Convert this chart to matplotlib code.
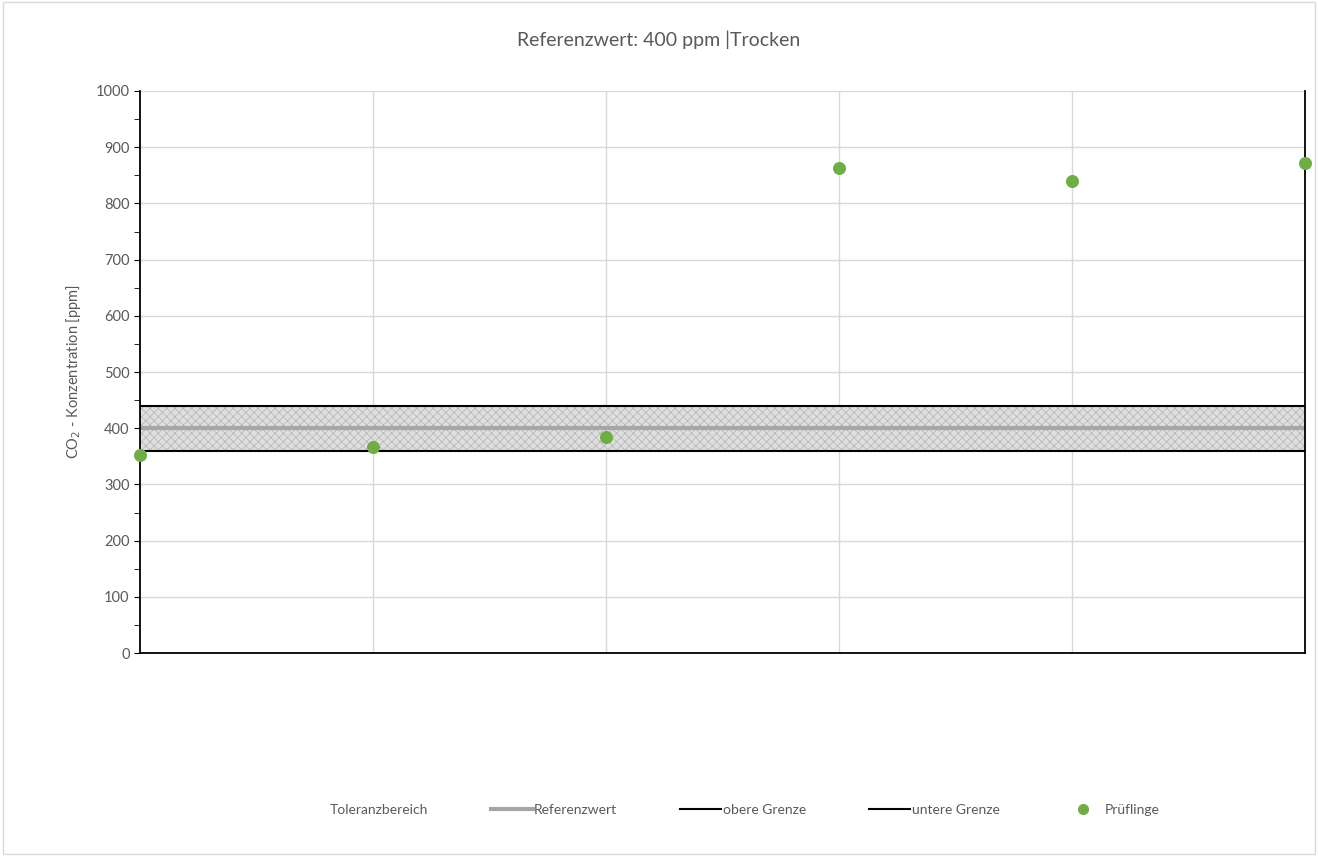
import numpy as np
import matplotlib.pyplot as plt
from matplotlib.patches import Patch
from matplotlib.lines import Line2D

plt.rcParams['font.family'] = ['Lato', 'DejaVu Sans']
plt.rcParams['hatch.color'] = '#b3b3b3'
plt.rcParams['hatch.linewidth'] = 0.5

positions = [0, 1, 2, 3, 4, 5]
pruflinge = [352, 366, 384, 863, 840, 872]
referenz = 400
obere = 440
untere = 360

grey_txt = '#595959'

fig = plt.figure(figsize=(13.18, 8.56), dpi=100)
ax = fig.add_axes([0.1062, 0.2371, 0.8840, 0.6566])

ax.fill_between([0, 5], untere, obere, facecolor='#dedede', edgecolor='#b3b3b3',
                hatch='xxxx', linewidth=0, zorder=1)
ax.plot([0, 5], [referenz, referenz], color='#a6a6a6', lw=3, zorder=2)
ax.plot([0, 5], [obere, obere], color='black', lw=1.5, zorder=3)
ax.plot([0, 5], [untere, untere], color='black', lw=1.5, zorder=3)
ax.scatter(positions, pruflinge, s=70, color='#70ad47', zorder=5, clip_on=False)

ax.set_xlim(0, 5)
ax.set_ylim(0, 1000)
ax.set_yticks(np.arange(0, 1001, 100))
ax.set_yticks(np.arange(0, 1001, 50), minor=True)
ax.set_xticks([1, 2, 3, 4])
ax.set_xticklabels([])
ax.tick_params(axis='x', length=0)
ax.tick_params(axis='y', which='both', direction='out', length=4, colors='black',
               labelcolor=grey_txt, labelsize=10.5)
ax.grid(True, color='#d9d9d9', lw=1)
ax.set_axisbelow(True)
for s in ['left', 'bottom', 'right']:
    ax.spines[s].set_color('black')
    ax.spines[s].set_linewidth(1.3)
ax.spines['top'].set_visible(False)

ax.set_ylabel('CO$_2$ - Konzentration [ppm]', color=grey_txt, fontsize=10.5, labelpad=9)
fig.text(0.5, 0.953, 'Referenzwert: 400 ppm |Trocken', ha='center', va='center',
         color=grey_txt, fontsize=14)

handles = [
    Patch(facecolor='white', edgecolor='white'),
    Line2D([], [], color='#a6a6a6', lw=3),
    Line2D([], [], color='black', lw=1.5),
    Line2D([], [], color='black', lw=1.5),
    Line2D([], [], color='#70ad47', marker='o', ls='', markersize=7),
]
labels = ['Toleranzbereich', 'Referenzwert', 'obere Grenze', 'untere Grenze', 'Prüflinge']
leg = fig.legend(handles, labels, loc='center', bbox_to_anchor=(0.549, 0.054), ncol=5,
                 frameon=False, fontsize=10, columnspacing=4.5, handlelength=3,
                 handletextpad=0.1)
for t in leg.get_texts():
    t.set_color(grey_txt)

fig.patches.append(plt.Rectangle((0.002, 0.002), 0.996, 0.996, transform=fig.transFigure,
                                 fill=False, edgecolor='#d9d9d9', lw=1))

fig.savefig('out.png', dpi=100)
